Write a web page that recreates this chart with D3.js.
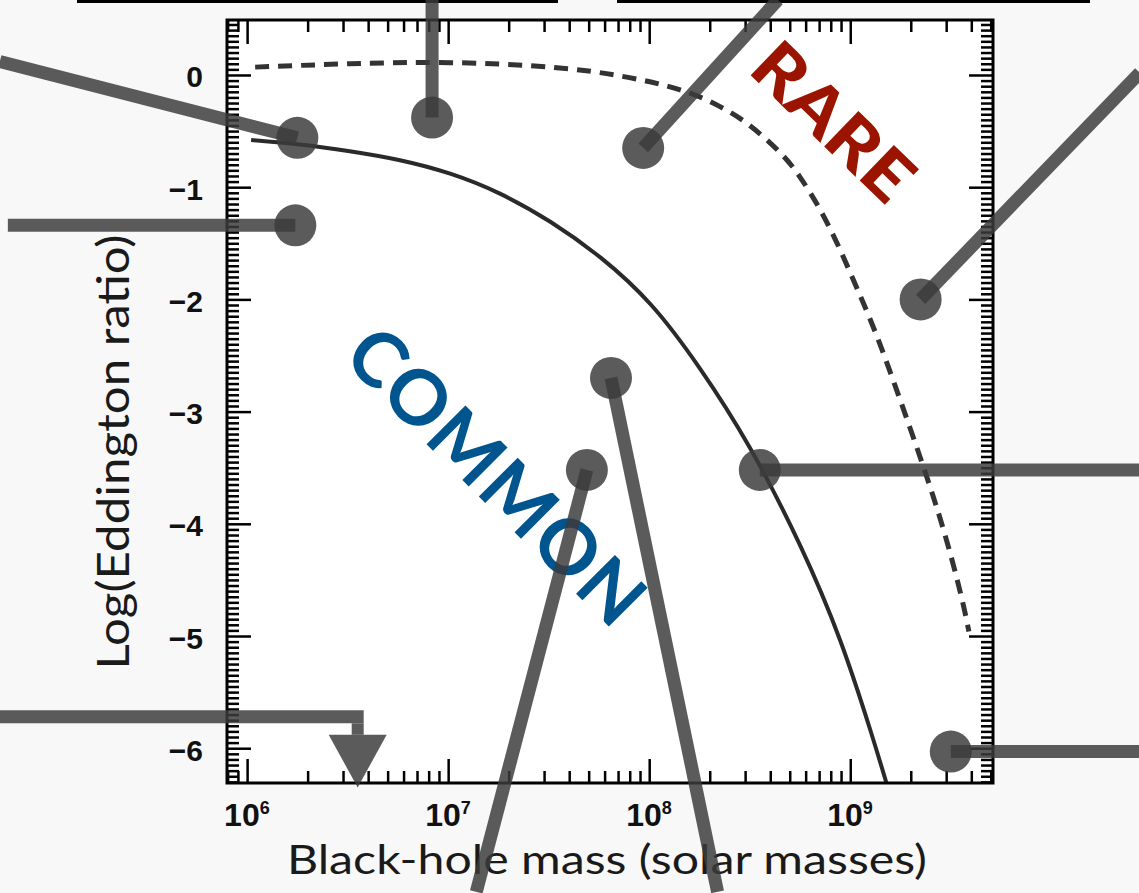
<!DOCTYPE html>
<html>
<head>
<meta charset="utf-8">
<script src="https://cdn.jsdelivr.net/npm/d3@7"></script>
<style>
  body { margin: 0; background: #f8f8f8; }
  svg { display: block; }
</style>
</head>
<body>
<div id="chart"></div>
<script>
// values are log10(mass in solar masses) and log10(Eddington ratio)
const solidMass = [6.02, 6.26, 6.51, 6.76, 7.01, 7.26, 7.51, 7.76, 8.01, 8.25, 8.50, 8.75, 8.95, 9.10, 9.18];
const solidRatio = [-0.58, -0.62, -0.68, -0.76, -0.88, -1.06, -1.31, -1.63, -2.05, -2.61, -3.32, -4.19, -5.04, -5.84, -6.31];

const dashMass = [6.04, 6.51, 7.01, 7.51, 7.86, 8.15, 8.35, 8.50, 8.65, 8.75, 8.85, 8.95, 9.05, 9.15, 9.30, 9.45, 9.55, 9.59];
const dashRatio = [0.07, 0.10, 0.11, 0.07, -0.01, -0.13, -0.28, -0.45, -0.69, -0.91, -1.20, -1.56, -1.97, -2.41, -3.16, -3.97, -4.63, -4.96];

// pins: dot position and where its bar runs off to
const pinMass = [6.25, 6.92, 7.97, 6.24, 9.35, 7.81, 7.69, 8.55, 9.50];
const pinRatio = [-0.56, -0.38, -0.65, -1.34, -2.00, -2.70, -3.52, -3.52, -6.03];
const pinEndMass = [4.77, 6.92, 8.64, 4.81, 10.44, 8.34, 7.14, 10.44, 10.44];
const pinEndRatio = [0.12, 0.67, 0.67, -1.34, 0.02, -7.28, -7.28, -3.52, -6.03];

// upper limit (arrow)
const limitMass = 6.55;
const limitRatio = -5.72;
const limitEndMass = 4.77;
const limitTop = -5.88;
const limitTip = -6.35;

const xMajor = [6, 7, 8, 9];
const yMajor = [-6, -5, -4, -3, -2, -1, 0];

const width = 1139, height = 893;
const plot = { left: 227, right: 993, top: 20, bottom: 783 };

const x = d3.scaleLog()
  .domain([10 ** 5.9, 10 ** 9.71])
  .range([plot.left, plot.right]);
const y = d3.scaleLinear()
  .domain([-6.31, 0.49])
  .range([plot.bottom, plot.top]);

const svg = d3.select('#chart')
  .append('svg')
  .attr('width', width)
  .attr('height', height);

svg.append('rect')
  .attr('width', width).attr('height', height)
  .attr('fill', '#f8f8f8');

// black strip along the top edge
svg.append('rect').attr('x', 77).attr('y', 0).attr('width', 481).attr('height', 3).attr('fill', '#000');
svg.append('rect').attr('x', 617).attr('y', 0).attr('width', 473).attr('height', 3).attr('fill', '#000');

svg.append('rect')
  .attr('x', plot.left).attr('y', plot.top)
  .attr('width', plot.right - plot.left)
  .attr('height', plot.bottom - plot.top)
  .attr('fill', '#ffffff');

// curves
const line = d3.line()
  .x(d => x(10 ** d[0]))
  .y(d => y(d[1]))
  .curve(d3.curveNatural);

svg.append('path')
  .datum(solidMass.map((m, i) => [m, solidRatio[i]]))
  .attr('d', line)
  .attr('fill', 'none')
  .attr('stroke', '#2a2a2a')
  .attr('stroke-width', 4);

svg.append('path')
  .datum(dashMass.map((m, i) => [m, dashRatio[i]]))
  .attr('d', line)
  .attr('fill', 'none')
  .attr('stroke', '#333')
  .attr('stroke-width', 5)
  .attr('stroke-dasharray', '14,9');

// axes
const xMinor = [];
for (let n = 5; n <= 9; n++) {
  for (let k = 2; k <= 9; k++) {
    const v = k * 10 ** n;
    if (v > x.domain()[0] && v < x.domain()[1]) xMinor.push(v);
  }
}
const yMinor = d3.range(-126, 10).map(i => i * 0.05)
  .filter(v => Math.abs(v - Math.round(v)) > 1e-6);

function styleAxis(g) {
  g.select('.domain').remove();
  g.selectAll('.tick line').attr('stroke', '#000').attr('stroke-width', 2.5);
}
function ticksOnly(g) {
  styleAxis(g);
  g.selectAll('.tick text').remove();
}

const xMajorVals = xMajor.map(v => 10 ** v);

svg.append('g').attr('transform', `translate(0,${plot.bottom})`)
  .call(d3.axisBottom(x).tickValues(xMajorVals).tickSize(-24))
  .call(ticksOnly);
svg.append('g').attr('transform', `translate(0,${plot.bottom})`)
  .call(d3.axisBottom(x).tickValues(xMinor).tickSize(-12))
  .call(ticksOnly);
svg.append('g').attr('transform', `translate(0,${plot.top})`)
  .call(d3.axisTop(x).tickValues(xMajorVals).tickSize(-24))
  .call(ticksOnly);
svg.append('g').attr('transform', `translate(0,${plot.top})`)
  .call(d3.axisTop(x).tickValues(xMinor).tickSize(-12))
  .call(ticksOnly);

svg.append('g').attr('transform', `translate(${plot.left},0)`)
  .call(d3.axisLeft(y).tickValues(yMajor).tickSize(-24).tickPadding(24)
    .tickFormat(d => d === 0 ? '0' : '\u2212' + Math.abs(d)))
  .call(styleAxis)
  .call(g => g.selectAll('.tick text')
    .attr('fill', '#111')
    .attr('font-family', 'Liberation Sans, Arial, sans-serif')
    .attr('font-weight', 'bold')
    .attr('font-size', 30)
    .attr('dy', '0.4em'));
svg.append('g').attr('transform', `translate(${plot.left},0)`)
  .call(d3.axisLeft(y).tickValues(yMinor).tickSize(-12))
  .call(ticksOnly);
svg.append('g').attr('transform', `translate(${plot.right},0)`)
  .call(d3.axisRight(y).tickValues(yMajor).tickSize(-24))
  .call(ticksOnly);
svg.append('g').attr('transform', `translate(${plot.right},0)`)
  .call(d3.axisRight(y).tickValues(yMinor).tickSize(-12))
  .call(ticksOnly);

// x tick labels as 10^n
const xLabels = svg.append('g')
  .attr('font-family', 'Liberation Sans, Arial, sans-serif')
  .attr('font-weight', 'bold')
  .attr('fill', '#111');
xMajor.forEach(n => {
  const t = xLabels.append('text')
    .attr('x', x(10 ** n) - 23)
    .attr('y', 826)
    .attr('font-size', 32);
  t.append('tspan').text('10');
  t.append('tspan').attr('font-size', 18).attr('dy', -12).text(n);
});

svg.append('rect')
  .attr('x', plot.left).attr('y', plot.top)
  .attr('width', plot.right - plot.left)
  .attr('height', plot.bottom - plot.top)
  .attr('fill', 'none')
  .attr('stroke', '#000')
  .attr('stroke-width', 3);

// axis titles
svg.append('text')
  .attr('x', 607).attr('y', 874)
  .attr('text-anchor', 'middle')
  .attr('font-family', 'Lato, Open Sans, sans-serif')
  .attr('font-size', 40)
  .attr('fill', '#1a1a1a')
  .attr('textLength', 640)
  .attr('lengthAdjust', 'spacingAndGlyphs')
  .text('Black-hole mass (solar masses)');

svg.append('text')
  .attr('transform', 'translate(112,452) rotate(-90)')
  .attr('text-anchor', 'middle')
  .attr('dominant-baseline', 'central')
  .attr('font-family', 'Lato, Open Sans, sans-serif')
  .attr('font-size', 44)
  .attr('fill', '#1a1a1a')
  .attr('textLength', 435)
  .attr('lengthAdjust', 'spacingAndGlyphs')
  .text('Log(Eddington ratio)');

// region words
svg.append('text')
  .attr('transform', 'translate(835,120) rotate(44)')
  .attr('text-anchor', 'middle')
  .attr('dominant-baseline', 'central')
  .attr('font-family', 'Lato, sans-serif')
  .attr('font-weight', 900)
  .attr('font-size', 68)
  .attr('fill', '#9a1400')
  .attr('textLength', 195)
  .attr('lengthAdjust', 'spacingAndGlyphs')
  .text('RARE');

svg.append('text')
  .attr('transform', 'translate(498,474) rotate(45)')
  .attr('text-anchor', 'middle')
  .attr('dominant-baseline', 'central')
  .attr('font-family', 'Lato, sans-serif')
  .attr('font-weight', 700)
  .attr('font-size', 76)
  .attr('fill', '#00558f')
  .attr('textLength', 385)
  .attr('lengthAdjust', 'spacing')
  .text('COMMON');

// pins
const pinColor = 'rgba(59,59,59,0.84)';
const pins = pinMass.map((m, i) => ({
  m: m, r: pinRatio[i], em: pinEndMass[i], er: pinEndRatio[i]
}));

svg.append('g').selectAll('line')
  .data(pins)
  .enter().append('line')
  .attr('x1', d => x(10 ** d.em))
  .attr('y1', d => y(d.er))
  .attr('x2', d => x(10 ** d.m))
  .attr('y2', d => y(d.r))
  .attr('stroke', pinColor)
  .attr('stroke-width', 13);

svg.append('g').selectAll('circle')
  .data(pins)
  .enter().append('circle')
  .attr('cx', d => x(10 ** d.m))
  .attr('cy', d => y(d.r))
  .attr('r', 21)
  .attr('fill', pinColor);

// upper-limit arrow
const lx = x(10 ** limitMass);
svg.append('line')
  .attr('x1', x(10 ** limitEndMass)).attr('y1', y(limitRatio))
  .attr('x2', lx + 6).attr('y2', y(limitRatio))
  .attr('stroke', pinColor).attr('stroke-width', 13);
svg.append('line')
  .attr('x1', lx).attr('y1', y(limitRatio) + 6.5)
  .attr('x2', lx).attr('y2', y(limitTop))
  .attr('stroke', pinColor).attr('stroke-width', 12);
svg.append('path')
  .attr('d', `M${lx - 29},${y(limitTop)}L${lx + 29},${y(limitTop)}L${lx},${y(limitTip)}Z`)
  .attr('fill', pinColor);
</script>
</body>
</html>
